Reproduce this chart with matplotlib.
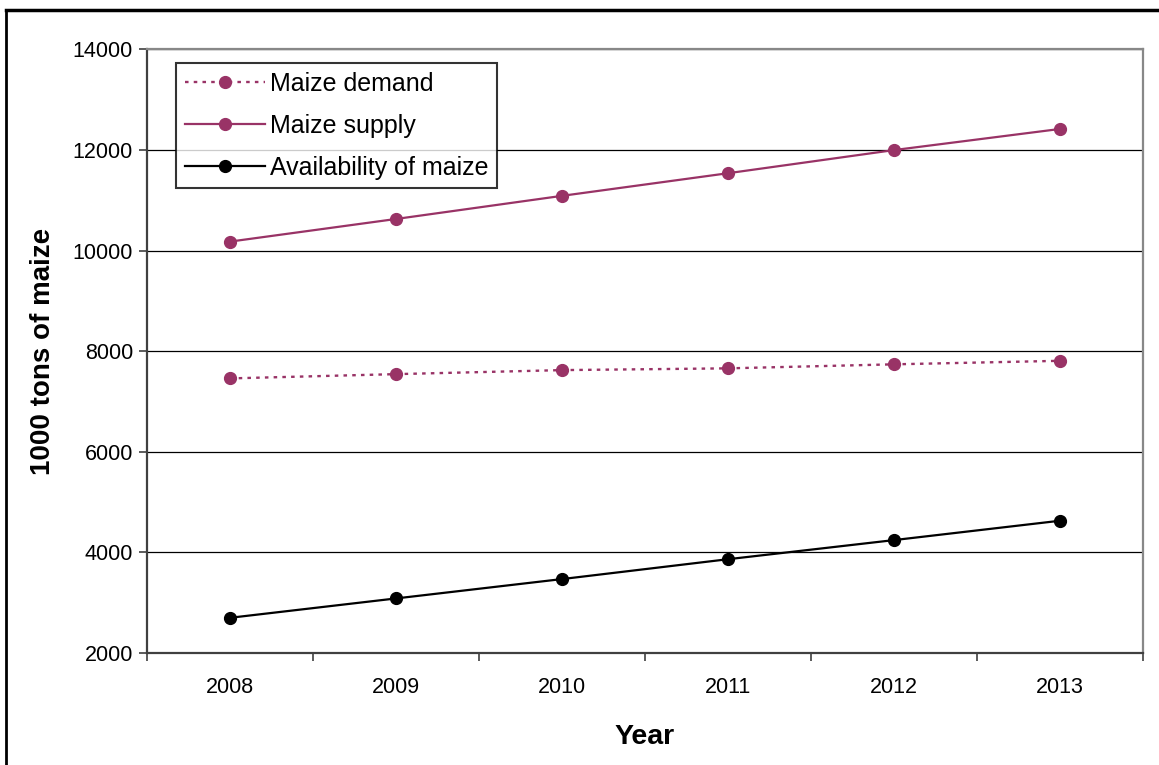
import matplotlib
matplotlib.use("Agg")
import matplotlib.pyplot as plt
from matplotlib.lines import Line2D

plt.rcParams["font.family"] = ["Liberation Sans", "DejaVu Sans"]

years = ["2008", "2009", "2010", "2011", "2012", "2013"]
maize_demand = [7460, 7545, 7625, 7660, 7740, 7810]
maize_supply = [10180, 10630, 11090, 11540, 12000, 12420]
maize_availability = [2700, 3085, 3470, 3865, 4245, 4630]
y_ticks = [2000, 4000, 6000, 8000, 10000, 12000, 14000]

PLUM = "#993366"

fig = plt.figure(figsize=(11.59, 7.65), dpi=100)
ax = fig.add_axes([0.1268, 0.1464, 0.8594, 0.7889])

x = list(range(len(years)))
ax.plot(x, maize_demand, color=PLUM, linestyle=(0, (1.5, 2.2)), linewidth=1.7,
        marker="o", markersize=8.5, label="Maize demand")
ax.plot(x, maize_supply, color=PLUM, linewidth=1.6,
        marker="o", markersize=8.5, label="Maize supply")
ax.plot(x, maize_availability, color="black", linewidth=1.6,
        marker="o", markersize=8.5, label="Availability of maize")

ax.set_xlim(-0.5, len(years) - 0.5)
ax.set_ylim(y_ticks[0], y_ticks[-1])
ax.set_yticks(y_ticks)
ax.set_yticklabels([str(v) for v in y_ticks])
ax.yaxis.grid(True, color="black", linewidth=0.9)
ax.set_axisbelow(True)

# category labels sit between boundary ticks
ax.set_xticks([i - 0.5 for i in range(len(years) + 1)])
ax.set_xticklabels([])
ax.set_xticks(x, minor=True)
ax.set_xticklabels(years, minor=True)
ax.tick_params(axis="x", which="minor", length=0, pad=17, labelsize=15.5)
ax.tick_params(axis="x", which="major", length=6, width=1.2, color="#404040")
ax.tick_params(axis="y", length=6, width=1.2, color="#404040", pad=4, labelsize=15.5)

for side in ("left", "bottom"):
    ax.spines[side].set_color("#404040")
    ax.spines[side].set_linewidth(1.6)
for side in ("top", "right"):
    ax.spines[side].set_color("#888888")
    ax.spines[side].set_linewidth(1.6)

ax.set_xlabel("Year", fontsize=20.5, fontweight="bold", labelpad=19)
ax.set_ylabel("1000 tons of maize", fontsize=20, fontweight="bold", labelpad=12)

leg = ax.legend(loc="upper left", bbox_to_anchor=(0.029, 0.978), fontsize=18,
                frameon=True, fancybox=False, handlelength=3.2,
                handletextpad=0.2, labelspacing=0.72, borderpad=0.35,
                borderaxespad=0)
leg.get_frame().set_edgecolor("black")
leg.get_frame().set_linewidth(1.5)

# outer frame lines along the top and left edges of the figure
fig.add_artist(Line2D([6 / 1159, 1], [1 - 10 / 765, 1 - 10 / 765],
                      transform=fig.transFigure, color="black", linewidth=2.5))
fig.add_artist(Line2D([6 / 1159, 6 / 1159], [0, 1 - 10 / 765],
                      transform=fig.transFigure, color="black", linewidth=2))

fig.savefig("out.png", dpi=100)
